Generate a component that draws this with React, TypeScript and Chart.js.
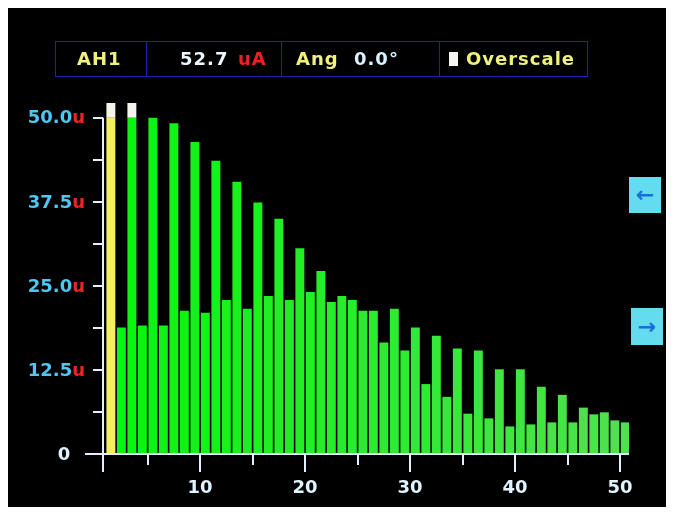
import React, { useEffect, useRef } from "react";
import { Chart, registerables } from "chart.js";

Chart.register(...registerables);

// Harmonic orders shown on the meter
const harmonics = [
  1, 2, 3, 4, 5, 6, 7, 8, 9, 10, 11, 12, 13, 14, 15, 16, 17, 18, 19, 20, 21, 22, 23, 24, 25,
  26, 27, 28, 29, 30, 31, 32, 33, 34, 35, 36, 37, 38, 39, 40, 41, 42, 43, 44, 45, 46, 47, 48, 49, 50,
];

// Harmonic amplitudes in uA (read from the display)
const harmonicValues = [
  52.7, 18.8, 51.5, 19.1, 50.0, 19.1, 49.2, 21.3, 46.4, 21.0, 43.6, 22.9, 40.5, 21.6, 37.4,
  23.5, 35.0, 22.9, 30.6, 24.1, 27.2, 22.6, 23.5, 22.9, 21.3, 21.3, 16.6, 21.6, 15.4, 18.8,
  10.4, 17.6, 8.5, 15.7, 6.0, 15.4, 5.3, 12.6, 4.1, 12.6, 4.4, 10.0, 4.7, 8.8, 4.7, 6.9, 5.9,
  6.2, 5.0, 4.7,
];

const fullScale = 50; // uA
const overscaleMarker = 2.2; // height of the white overscale flag

const yTickValues = [0, 12.5, 25, 37.5, 50];
const yTickLabels = ["0", "12.5", "25.0", "37.5", "50.0"];
const yMinorValues = [6.25, 18.75, 31.25, 43.75];
const xTickValues = [10, 20, 30, 40, 50];
const xTickLabels = ["10", "20", "30", "40", "50"];
const xMinorValues = [5, 15, 25, 35, 45];

const FONT = "'DejaVu Sans', sans-serif";

function barColor(i: number): string {
  if (i === 0) return "#f3ef5e";
  const t = (i - 1) / 48;
  const r = Math.round(8 + 72 * t);
  const g = Math.round(245 - 20 * t);
  const b = Math.round(14 + 66 * t);
  return `rgb(${r},${g},${b})`;
}

const meterAxesPlugin = {
  id: "meterAxes",
  afterDraw(chart: any) {
    const ctx = chart.ctx as CanvasRenderingContext2D;
    const xs = chart.scales.x;
    const ys = chart.scales.y;
    const x0 = chart.chartArea.left;
    const y0 = ys.getPixelForValue(0);
    const yTop = ys.getPixelForValue(fullScale);
    const xRight = chart.chartArea.right;
    ctx.save();
    ctx.strokeStyle = "#e4f0ff";
    ctx.lineWidth = 2;
    // axis lines
    ctx.beginPath();
    ctx.moveTo(x0, yTop);
    ctx.lineTo(x0, y0 + 18);
    ctx.moveTo(x0 - 18, y0);
    ctx.lineTo(xRight, y0);
    ctx.stroke();
    // y ticks
    ctx.beginPath();
    [...yTickValues, ...yMinorValues].forEach((v) => {
      const py = Math.round(ys.getPixelForValue(v));
      ctx.moveTo(x0 - 10, py);
      ctx.lineTo(x0, py);
    });
    // x ticks
    xMinorValues.forEach((v) => {
      const px = Math.round(xs.getPixelForValue(v));
      ctx.moveTo(px, y0);
      ctx.lineTo(px, y0 + 11);
    });
    xTickValues.forEach((v) => {
      const px = Math.round(xs.getPixelForValue(v));
      ctx.moveTo(px, y0);
      ctx.lineTo(px, y0 + 18);
    });
    ctx.stroke();

    // y labels
    ctx.font = `bold 18px ${FONT}`;
    ctx.textBaseline = "middle";
    yTickValues.forEach((v, i) => {
      const py = ys.getPixelForValue(v);
      const label = yTickLabels[i];
      if (v === 0) {
        ctx.textAlign = "center";
        ctx.fillStyle = "#dff4ff";
        ctx.fillText(label, x0 - 39, py + 1);
        return;
      }
      ctx.textAlign = "right";
      ctx.fillStyle = "#ee2424";
      ctx.fillText("u", x0 - 18, py + 1);
      const uw = ctx.measureText("u").width;
      ctx.fillStyle = "#4ec8f2";
      ctx.fillText(label, x0 - 18 - uw, py + 1);
    });

    // x labels
    ctx.font = `bold 18px ${FONT}`;
    ctx.textAlign = "center";
    ctx.fillStyle = "#dff4ff";
    xTickValues.forEach((v, i) => {
      const px = xs.getPixelForValue(v);
      ctx.fillText(xTickLabels[i], px, y0 + 34);
    });
    ctx.restore();
  },
};

export default function App() {
  const canvasRef = useRef<HTMLCanvasElement | null>(null);

  useEffect(() => {
    if (!canvasRef.current) return;
    // each harmonic n occupies the interval [n, n+1] on the meter's axis
    const shown = harmonics.map((h, i) => ({ x: h + 0.5, y: Math.min(harmonicValues[i], fullScale) }));
    const flags = harmonics.map((h, i) => ({
      x: h + 0.5,
      y: harmonicValues[i] > fullScale ? overscaleMarker : 0,
    }));
    const chart = new Chart(canvasRef.current, {
      type: "bar",
      data: {
        datasets: [
          {
            label: "Harmonic amplitude",
            data: shown,
            backgroundColor: harmonics.map((_, i) => barColor(i)),
            borderWidth: 0,
            barPercentage: 0.85,
            categoryPercentage: 1,
          },
          {
            label: "Overscale",
            data: flags,
            backgroundColor: "#f4f4ec",
            borderWidth: 0,
            barPercentage: 0.85,
            categoryPercentage: 1,
          },
        ],
      },
      options: {
        responsive: false,
        animation: false,
        layout: { padding: { left: 95, right: 37, top: 93, bottom: 52 } },
        plugins: { legend: { display: false }, tooltip: { enabled: false } },
        scales: {
          x: {
            type: "linear",
            display: false,
            offset: false,
            grid: { offset: false },
            min: 0.75,
            max: 50.85,
            stacked: true,
          },
          y: { display: false, min: 0, max: 52.5, stacked: true },
        },
      },
      plugins: [meterAxesPlugin],
    });
    return () => chart.destroy();
  }, []);

  const yellow = "#f0f07c";
  const textBase: React.CSSProperties = {
    position: "absolute",
    top: 40,
    fontFamily: FONT,
    fontWeight: "bold",
    fontSize: 18,
    lineHeight: "22px",
    letterSpacing: 1,
    whiteSpace: "nowrap",
  };

  return (
    <div style={{ position: "relative", width: 659, height: 499, background: "#000" }}>
      <canvas ref={canvasRef} width={658} height={498} style={{ position: "absolute", left: 0, top: 0 }} />
      {/* header box */}
      <div
        style={{
          position: "absolute",
          left: 47,
          top: 33,
          width: 533,
          height: 36,
          border: "1px solid #2020a8",
          boxSizing: "border-box",
        }}
      >
        {[90, 225, 383].map((x) => (
          <div key={x} style={{ position: "absolute", left: x, top: 0, width: 1, height: 34, background: "#2020a8" }} />
        ))}
      </div>
      <span style={{ ...textBase, left: 69, color: yellow }}>AH1</span>
      <span style={{ ...textBase, left: 172, color: "#eef8ff" }}>52.7</span>
      <span style={{ ...textBase, left: 230, color: "#ee2020" }}>uA</span>
      <span style={{ ...textBase, left: 288, color: yellow }}>Ang</span>
      <span style={{ ...textBase, left: 346, color: "#d8f2ff" }}>0.0°</span>
      <div style={{ position: "absolute", left: 441, top: 44, width: 9, height: 14, background: "#f6f6f0" }} />
      <span style={{ ...textBase, left: 458, color: yellow }}>Overscale</span>
      {/* navigation buttons */}
      <div
        style={{
          position: "absolute",
          left: 621,
          top: 169,
          width: 32,
          height: 36,
          background: "#62dcee",
          color: "#1a6fd6",
          fontFamily: FONT,
          fontWeight: "bold",
          fontSize: 22,
          lineHeight: "36px",
          textAlign: "center",
        }}
      >
        ←
      </div>
      <div
        style={{
          position: "absolute",
          left: 623,
          top: 300,
          width: 32,
          height: 37,
          background: "#62dcee",
          color: "#1a6fd6",
          fontFamily: FONT,
          fontWeight: "bold",
          fontSize: 22,
          lineHeight: "37px",
          textAlign: "center",
        }}
      >
        →
      </div>
    </div>
  );
}
